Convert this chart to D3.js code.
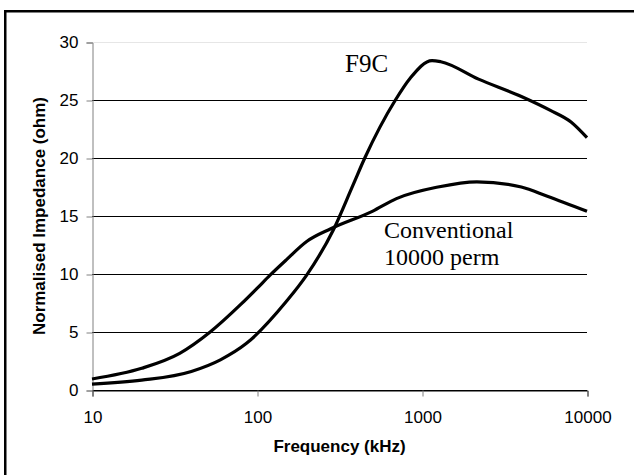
<!DOCTYPE html>
<meta charset="utf-8">
<style>
    body { margin: 0; background: #fff; }
</style>
<svg id="chart" width="634" height="475" font-family="Arial, 'Liberation Sans', sans-serif"></svg>
<script src="https://cdn.jsdelivr.net/npm/d3@7/dist/d3.min.js"></script>
<script>
    // values
    var f9cFreq = [10, 20, 40, 60, 86, 150, 200, 290, 380, 450, 690, 850, 1150, 1300, 2200, 4000, 6000, 8000, 10000];
    var f9cImp  = [0.5, 0.85, 1.6, 2.6, 4.0, 7.6, 9.9, 13.8, 17.6, 20.0, 25.0, 26.9, 28.4, 28.3, 26.8, 25.3, 24.1, 23.1, 21.75];

    var convFreq = [10, 20, 34, 52, 80, 100, 120, 150, 200, 280, 500, 700, 1250, 2150, 4000, 5750, 10000];
    var convImp  = [0.95, 1.87, 3.16, 5.0, 7.4, 8.76, 9.9, 11.2, 12.8, 13.9, 15.4, 16.5, 17.5, 17.95, 17.5, 16.7, 15.4];

    var xTicks = [10, 100, 1000, 10000];
    var yTicks = [0, 5, 10, 15, 20, 25, 30];

    var svg = d3.select("#chart");
    var plotLeft = 92, plotRight = 587, plotTop = 42, plotBottom = 390;
    var sans = "Arial, 'Liberation Sans', sans-serif";
    var serif = "'Liberation Serif', 'Times New Roman', serif";

    // outer frame (only top and left edges show in the picture)
    svg.append("rect")
        .attr("x", 5.25).attr("y", 11.25)
        .attr("width", 700).attr("height", 600)
        .attr("fill", "none").attr("stroke", "#000").attr("stroke-width", 2.5);

    var x = d3.scaleLog().domain([10, 10000]).range([plotLeft, plotRight]);
    var y = d3.scaleLinear().domain([0, 30]).range([plotBottom, plotTop]);

    // gridlines
    svg.append("g").selectAll("line")
        .data(yTicks)
        .join("line")
        .attr("x1", plotLeft).attr("x2", plotRight)
        .attr("y1", d => Math.round(y(d)) + 0.5).attr("y2", d => Math.round(y(d)) + 0.5)
        .attr("stroke", d => d == 30 ? "#e6e6e6" : "#000")
        .attr("stroke-width", 1);

    // y axis
    var yAxis = svg.append("g")
        .attr("transform", "translate(" + (plotLeft + 0.5) + ",0.5)")
        .call(d3.axisLeft(y).tickValues(yTicks).tickSize(6).tickPadding(8));
    yAxis.attr("font-size", 17).attr("font-family", sans);
    yAxis.select(".domain").attr("stroke", "#808080");
    yAxis.selectAll(".tick line").attr("stroke", "#808080");
    yAxis.selectAll("text").attr("fill", "#000");

    // x axis
    var xAxis = svg.append("g")
        .attr("transform", "translate(0.5," + (plotBottom + 0.5) + ")")
        .call(d3.axisBottom(x).tickValues(xTicks).tickFormat(d3.format("d")).tickSize(6).tickPadding(14));
    xAxis.attr("font-size", 17).attr("font-family", sans);
    xAxis.select(".domain").attr("stroke", "#000");
    xAxis.selectAll(".tick line").attr("stroke", "#808080");
    xAxis.selectAll("text").attr("fill", "#000");

    // curves
    var line = d3.line()
        .x(d => x(d[0]))
        .y(d => y(d[1]))
        .curve(d3.curveMonotoneX);

    var series = [d3.zip(convFreq, convImp), d3.zip(f9cFreq, f9cImp)];
    svg.append("g").selectAll("path")
        .data(series)
        .join("path")
        .attr("d", line)
        .attr("fill", "none")
        .attr("stroke", "#000")
        .attr("stroke-width", 3.2)
        .attr("stroke-linejoin", "round");

    // axis titles
    svg.append("text")
        .attr("x", (plotLeft + plotRight) / 2).attr("y", 452)
        .attr("text-anchor", "middle")
        .attr("font-size", 17).attr("font-weight", "bold")
        .text("Frequency (kHz)");

    svg.append("text")
        .attr("transform", "translate(45," + ((plotTop + plotBottom) / 2) + ") rotate(-90)")
        .attr("text-anchor", "middle")
        .attr("font-size", 17).attr("font-weight", "bold")
        .text("Normalised Impedance (ohm)");

    // series labels
    svg.append("text")
        .attr("x", 345).attr("y", 72)
        .attr("font-family", serif).attr("font-size", 25)
        .text("F9C");
    svg.append("text")
        .attr("x", 384).attr("y", 238)
        .attr("font-family", serif).attr("font-size", 24)
        .text("Conventional");
    svg.append("text")
        .attr("x", 384).attr("y", 265)
        .attr("font-family", serif).attr("font-size", 24)
        .text("10000 perm");
</script>
